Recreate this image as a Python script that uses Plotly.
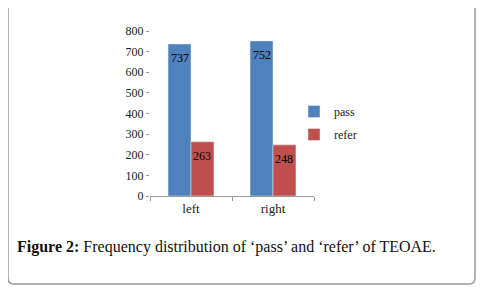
import plotly.graph_objects as go

categories = ["left", "right"]
pass_values = [737, 752]
refer_values = [263, 248]
y_ticks = [0, 100, 200, 300, 400, 500, 600, 700, 800]
caption_label = "Figure 2:"
caption_text = " Frequency distribution of ‘pass’ and ‘refer’ of TEOAE."

OFF = 8  # page body margin offset
W, H = 488, 293
L, T = 150 - OFF, 31 - OFF
pw, ph = 164, 165
R = W - L - pw
B = H - T - ph
BARGAP = 0.44

def px(x):
    return (x - OFF - L) / pw

def py(y):
    return (T + ph - (y - OFF)) / ph

serif = "Liberation Serif"
tf = dict(color="black", size=12, family=serif)

fig = go.Figure()
fig.add_trace(go.Bar(name="pass", x=categories, y=pass_values, marker_color="#4F81BD",
                     legendgroup="p"))
fig.add_trace(go.Bar(name="refer", x=categories, y=refer_values, marker_color="#C0504D",
                     legendgroup="r"))

# value labels just inside the top of each bar
bar_w = pw / len(categories) * (1 - BARGAP) / 2
for vals, shift in ((pass_values, -bar_w / 2), (refer_values, bar_w / 2)):
    for c, v in zip(categories, vals):
        fig.add_annotation(x=c, y=v, text=str(v), showarrow=False, xshift=shift, yshift=-14,
                           yanchor="middle", font=tf)

# rounded border
x0, x1, y0, y1, r = 8, 475, 3, 284, 6
path = (f"M {px(x0+r)},{py(y0)} L {px(x1-r)},{py(y0)} Q {px(x1)},{py(y0)} {px(x1)},{py(y0+r)} "
        f"L {px(x1)},{py(y1-r)} Q {px(x1)},{py(y1)} {px(x1-r)},{py(y1)} "
        f"L {px(x0+r)},{py(y1)} Q {px(x0)},{py(y1)} {px(x0)},{py(y1-r)} "
        f"L {px(x0)},{py(y0+r)} Q {px(x0)},{py(y0)} {px(x0+r)},{py(y0)} Z")
fig.add_shape(type="path", path=path, xref="paper", yref="paper",
              line=dict(color="#9a9a9a", width=1.5))

fig.add_annotation(xref="paper", yref="paper", x=px(15), y=py(247), xanchor="left", yanchor="middle",
                   text=f"<b>{caption_label}</b>{caption_text}", showarrow=False,
                   font=dict(family=serif, size=16, color="#111"))

fig.update_layout(
    width=W, height=H, margin=dict(l=L, r=R, t=T, b=B),
    paper_bgcolor="white", plot_bgcolor="white",
    barmode="group", bargap=BARGAP, bargroupgap=0,
    font=dict(family=serif, size=12, color="#222"),
    showlegend=True,
    legend=dict(x=px(294), y=py(97), xanchor="left", yanchor="top",
                font=dict(family=serif, size=12, color="#222"),
                tracegroupgap=4, traceorder="grouped",
                itemwidth=30, bgcolor="rgba(0,0,0,0)"),
)
fig.update_xaxes(showline=True, linecolor="#9a9a9a", linewidth=1, ticks="outside",
                 tickson="boundaries", ticklen=4, tickcolor="#9a9a9a", showgrid=False,
                 tickfont=dict(family=serif, size=13, color="#222"))
fig.update_yaxes(range=[0, 800], tickvals=y_ticks, showline=False, ticks="outside",
                 ticklen=3, tickcolor="#9a9a9a", showgrid=False, zeroline=False,
                 tickfont=dict(family=serif, size=12, color="#222"))

fig.write_html("out.html")
